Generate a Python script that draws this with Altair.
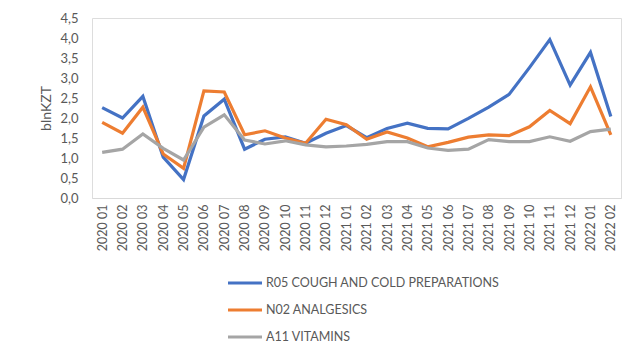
import altair as alt
import pandas as pd

months = ["2020 01", "2020 02", "2020 03", "2020 04", "2020 05", "2020 06", "2020 07",
          "2020 08", "2020 09", "2020 10", "2020 11", "2020 12", "2021 01", "2021 02",
          "2021 03", "2021 04", "2021 05", "2021 06", "2021 07", "2021 08", "2021 09",
          "2021 10", "2021 11", "2021 12", "2022 01", "2022 02"]

series_names = ["R05 COUGH AND COLD PREPARATIONS", "N02 ANALGESICS", "A11 VITAMINS"]

r05 = [2.26, 2.00, 2.54, 1.02, 0.46, 2.05, 2.47, 1.22, 1.47, 1.53, 1.37, 1.62,
       1.81, 1.51, 1.74, 1.87, 1.74, 1.73, 1.99, 2.27, 2.59, 3.26, 3.96, 2.82,
       3.64, 2.04]
n02 = [1.89, 1.62, 2.27, 1.10, 0.74, 2.68, 2.65, 1.58, 1.68, 1.50, 1.37, 1.97,
       1.83, 1.47, 1.65, 1.50, 1.28, 1.39, 1.52, 1.58, 1.56, 1.78, 2.19, 1.86,
       2.78, 1.58]
a11 = [1.14, 1.22, 1.60, 1.24, 0.95, 1.77, 2.08, 1.45, 1.35, 1.43, 1.33, 1.28,
       1.30, 1.34, 1.41, 1.41, 1.25, 1.19, 1.22, 1.46, 1.41, 1.41, 1.53, 1.42,
       1.66, 1.72]

colors = ["#4472C4", "#ED7D31", "#A5A5A5"]

rows = []
for name, vals in zip(series_names, [r05, n02, a11]):
    for m, v in zip(months, vals):
        rows.append({"month": m, "series": name, "value": v})
df = pd.DataFrame(rows)

FONT = "Lato"
TXT = "#595959"

chart = alt.Chart(df).mark_line(strokeWidth=3.2, strokeJoin="miter").encode(
    x=alt.X("month:O", sort=months, scale=alt.Scale(paddingOuter=0.5),
            axis=alt.Axis(title=None, labelAngle=-90, ticks=False, labelPadding=6,
                          domainColor="#D9D9D9", labelColor=TXT, labelFont=FONT,
                          labelFontSize=12.5)),
    y=alt.Y("value:Q", scale=alt.Scale(domain=[0, 4.5], nice=False),
            axis=alt.Axis(title="blnKZT", values=[0, 0.5, 1, 1.5, 2, 2.5, 3, 3.5, 4, 4.5],
                          format=".1f", labelExpr="replace(datum.label, '.', ',')",
                          domain=False, ticks=False, grid=False, labelPadding=14,
                          labelColor=TXT, labelFont=FONT, labelFontSize=13,
                          titleColor=TXT, titleFont=FONT, titleFontSize=14,
                          titleFontWeight="normal", titlePadding=6)),
    color=alt.Color("series:N", sort=series_names,
                    scale=alt.Scale(domain=series_names, range=colors),
                    legend=alt.Legend(title=None, orient="none", legendX=134, legendY=258,
                                      symbolType="stroke", symbolSize=1156,
                                      symbolStrokeWidth=3.2, labelOffset=2,
                                      clipHeight=14,
                                      labelFont=FONT, labelFontSize=12.5, labelColor=TXT,
                                      rowPadding=13, labelLimit=400)),
).properties(
    width=529, height=180,
    autosize=alt.AutoSizeParams(type="none"),
    padding={"left": 84, "top": 10, "right": 3, "bottom": 150},
).configure_view(stroke=None).configure(background="white")

chart.save("out.html", embed_options={"renderer": "svg", "actions": False})
